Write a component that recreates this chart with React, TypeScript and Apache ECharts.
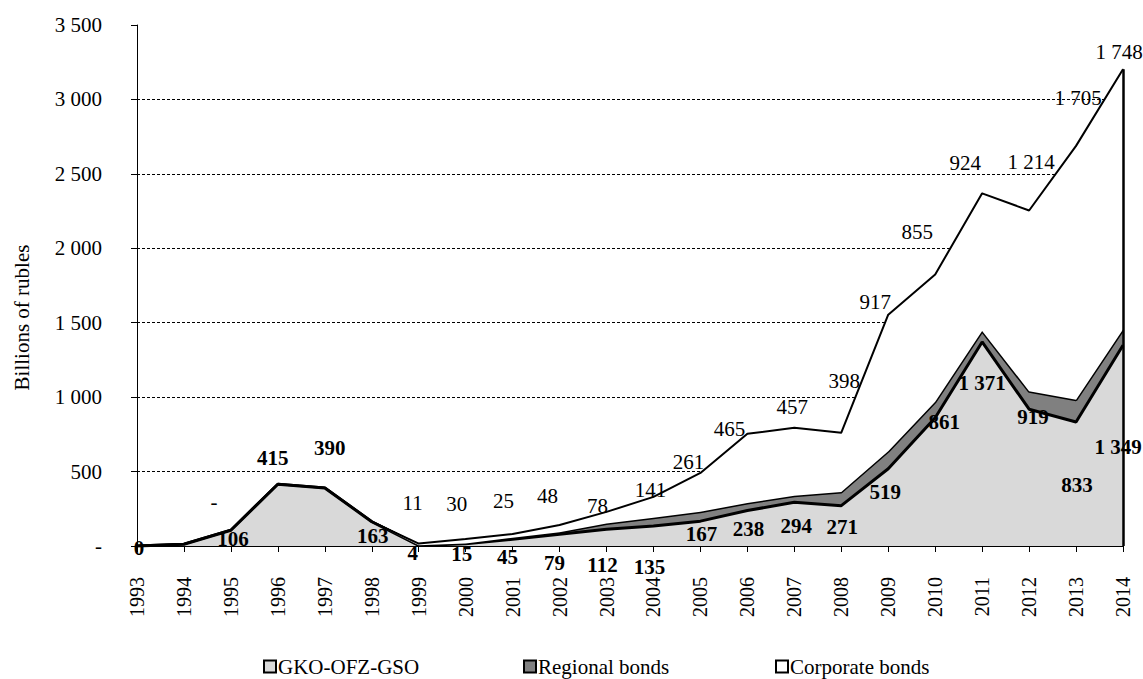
import React, { useEffect, useRef } from "react";
import * as echarts from "echarts";

const years = ["1993","1994","1995","1996","1997","1998","1999","2000","2001","2002","2003","2004","2005","2006","2007","2008","2009","2010","2011","2012","2013","2014"];
const gko = [0, 12, 106, 415, 390, 163, 4, 15, 45, 79, 112, 135, 167, 238, 294, 271, 519, 861, 1371, 919, 833, 1349];
const regional = [0, 0, 0, 0, 0, 0, 1, 2, 11, 14, 39, 54, 63, 51, 43, 92, 118, 108, 74, 121, 150, 106];
const corporate = [0, 0, 0, 0, 0, 0, 11, 30, 25, 48, 78, 141, 261, 465, 457, 398, 917, 855, 924, 1214, 1705, 1748];
const gkoLabelShown = [true, false, true, true, true, true, true, true, true, true, true, true, true, true, true, true, true, true, true, true, true, true];
const corpLabelShown = [false, false, true, false, false, false, true, true, true, true, true, true, true, true, true, true, true, true, true, true, true, true];
const yTicks = { min: 0, max: 3500, interval: 500 };
const seriesNames = ["GKO-OFZ-GSO", "Regional bonds", "Corporate bonds"];
const seriesFills = ["#d9d9d9", "#808080", "#ffffff"];
const legendLefts = [263, 523, 775];

// label placement offsets (pixels) relative to each point
const gkoLabelOffsets = [[2,2],[0,0],[2,9],[-5,-26],[5,-40],[1,14],[-6,8],[-4,10],[-5,18],[-5,29],[-4,36],[-4,41],[1,13],[1,18],[2,24],[1,21],[-3,23],[9,4],[0,41],[4,8],[1,63],[-5,102]];
const corpLabelOffsets = [[0,0],[0,0],[-17,-28],[0,0],[0,0],[0,0],[-6,-41],[-9,-35],[-9,-33],[-12,-29],[-9,-6],[-3,-7],[-12,-11],[-18,-5],[-2,-21],[3,-52],[-13,-13],[-18,-42],[-17,-30],[2,-48],[2,-48],[-4,-17]];

const FONT = "'Liberation Serif', 'Times New Roman', serif";

function fmt(v: number): string {
  if (v === 0) return "-";
  const s = String(Math.round(v));
  return s.replace(/\B(?=(\d{3})+(?!\d))/g, " ");
}

export default function App() {
  const ref = useRef<HTMLDivElement>(null);
  useEffect(() => {
    if (!ref.current) return;
    const chart = echarts.init(ref.current, undefined, { renderer: "svg" });
    const lastIdx = years.length - 1;
    const total = gko[lastIdx] + regional[lastIdx] + corporate[lastIdx];

    const gkoData = gko.map((v, i) => ({
      value: v,
      label: {
        show: gkoLabelShown[i],
        position: "inside",
        offset: gkoLabelOffsets[i],
        formatter: () => (v === 0 ? "0" : fmt(v)),
      },
    }));
    const corpData = corporate.map((v, i) => ({
      value: v,
      label: {
        show: corpLabelShown[i],
        position: "inside",
        offset: corpLabelOffsets[i],
        formatter: () => fmt(v),
      },
    }));

    const legends = seriesNames.map((name, i) => ({
      left: legendLefts[i],
      top: 656,
      padding: 0,
      icon: "rect",
      itemWidth: 12,
      itemHeight: 12,
      itemGap: 0,
      textStyle: { fontFamily: FONT, fontSize: 21, color: "#000", padding: [0, 0, 0, -3] },
      data: [{ name, itemStyle: { color: seriesFills[i], borderColor: "#000", borderWidth: 2 } }],
    }));

    const option: any = {
      animation: false,
      textStyle: { fontFamily: FONT },
      grid: { left: 137, right: 20, top: 25, bottom: 133, containLabel: false },
      legend: legends,
      xAxis: {
        type: "category",
        data: years,
        boundaryGap: false,
        axisLine: { lineStyle: { color: "#000", width: 2 } },
        axisTick: { show: true, length: 6, lineStyle: { color: "#000", width: 1 } },
        axisLabel: { rotate: 90, margin: 31, fontFamily: FONT, fontSize: 20, color: "#000" },
      },
      yAxis: {
        type: "value",
        min: yTicks.min,
        max: yTicks.max,
        interval: yTicks.interval,
        name: "Billions of rubles",
        nameLocation: "middle",
        nameGap: 105,
        nameRotate: 90,
        nameTextStyle: { fontFamily: FONT, fontSize: 21, color: "#000", padding: [0, 64, 0, 0] },
        axisLine: { show: true, lineStyle: { color: "#000", width: 1 } },
        axisTick: { show: true, length: 6, lineStyle: { color: "#000" } },
        axisLabel: { margin: 35, fontFamily: FONT, fontSize: 21, color: "#000", formatter: (v: number) => fmt(v) },
        splitLine: {
          show: true,
          lineStyle: {
            type: [3, 2],
            width: 1,
            color: ["transparent", "#000", "#000", "#000", "#000", "#000", "#000", "transparent"],
          },
        },
      },
      series: [
        {
          name: seriesNames[0],
          type: "line",
          stack: "total",
          z: 3,
          data: gkoData,
          symbol: "circle",
          symbolSize: 1,
          showSymbol: true,
          itemStyle: { color: "#000" },
          lineStyle: { color: "#000", width: 3 },
          areaStyle: { color: seriesFills[0], opacity: 1 },
          label: { fontFamily: FONT, fontSize: 21, fontWeight: "bold", color: "#000" },
        },
        {
          name: seriesNames[1],
          type: "line",
          stack: "total",
          z: 2,
          data: regional,
          symbol: "none",
          itemStyle: { color: "#000" },
          lineStyle: { color: "#000", width: 3 },
          areaStyle: { color: seriesFills[1], opacity: 1 },
        },
        {
          name: seriesNames[2],
          type: "line",
          stack: "total",
          z: 4,
          data: corpData,
          symbol: "circle",
          symbolSize: 1,
          showSymbol: true,
          itemStyle: { color: "#000" },
          lineStyle: { color: "#000", width: 2 },
          areaStyle: { color: seriesFills[2], opacity: 1 },
          label: { fontFamily: FONT, fontSize: 21, color: "#000" },
          markLine: {
            silent: true,
            symbol: "none",
            label: { show: false },
            lineStyle: { color: "#000", width: 2.5, type: "solid" },
            data: [[{ coord: [years[lastIdx], 0] }, { coord: [years[lastIdx], total] }]],
          },
        },
      ],
    };
    chart.setOption(option);
    return () => chart.dispose();
  }, []);
  return (
    <div
      ref={ref}
      style={{ position: "fixed", left: 0, top: 0, width: 1143, height: 679, background: "#fff" }}
    />
  );
}
